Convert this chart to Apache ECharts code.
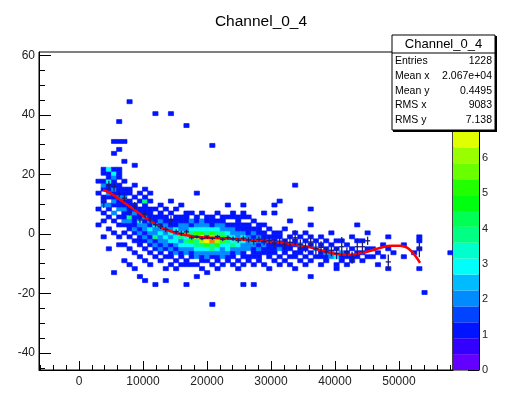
<!DOCTYPE html>
<html><head><meta charset="utf-8">
<script src="https://cdn.jsdelivr.net/npm/echarts@6/dist/echarts.min.js"></script>
<style>html,body{margin:0;padding:0;background:#fff}#c{width:510px;height:397px}</style>
</head><body><div id="c"></div>
<script>
// ---------- histogram definition ----------
const chartTitle = 'Channel_0_4';
const xRange = [-6250, 58450];
const yRange = [-45.7, 61.1];
const nBinsX = 80, nBinsY = 80;
const xMajor = [0, 10000, 20000, 30000, 40000, 50000];
const xMinor = [-6000,-4000,-2000,2000,4000,6000,8000,12000,14000,16000,18000,22000,24000,26000,28000,32000,34000,36000,38000,42000,44000,46000,48000,52000,54000,56000,58000];
const yMajor = [-40, -20, 0, 20, 40, 60];
const yMinor = [-45,-35,-30,-25,-15,-10,-5,5,10,15,25,30,35,45,50,55];
// colour scale (20 contour levels, ROOT pretty palette)
const zLevels = [0,0.45,0.9,1.35,1.8,2.25,2.7,3.15,3.6,4.05,4.5,4.95,5.4,5.85,6.3,6.75,7.2,7.65,8.1,8.55,9];
const paletteColors = ['#6300ff','#3300ff','#0014ff','#0044ff','#008bff','#00bbff','#00fffb','#00ffcc','#00ff85','#00ff55','#00ff0e','#22ff00','#69ff00','#99ff00','#e0ff00','#ffee00','#ffa700','#ff7700','#ff3000','#ff0000'];
// bin contents: [x bin, y bin, entries]
const binContents = [
[11,36,1],[11,40,1],[11,44,1],[11,47,1],
[12,33,1],[12,37,1],[12,39,1],[12,41,2],[12,42,1],[12,43,1],[12,45,1],[12,46,2],[12,47,1],[12,49,1],[12,50,1],
[13,30,1],[13,35,1],[13,38,1],[13,40,1],[13,41,2],[13,43,1],[13,44,2],[13,45,1],[13,46,1],[13,47,3],[13,48,1],[13,49,1],[13,50,3],
[14,24,1],[14,34,1],[14,37,1],[14,39,2],[14,41,1],[14,42,2],[14,43,1],[14,44,1],[14,45,2],[14,46,1],[14,47,1],[14,48,2],[14,49,3],[14,50,1],[14,54,1],[14,57,1],
[15,31,1],[15,33,1],[15,36,1],[15,38,1],[15,40,2],[15,41,1],[15,42,1],[15,43,2],[15,44,1],[15,45,1],[15,46,1],[15,48,1],[15,49,1],[15,50,1],[15,55,1],[15,57,1],[15,62,1],
[16,27,1],[16,31,1],[16,34,1],[16,36,1],[16,37,2],[16,38,1],[16,39,1],[16,40,2],[16,41,1],[16,42,1],[16,43,2],[16,44,1],[16,45,1],[16,47,1],[16,52,1],[16,57,1],
[17,26,1],[17,30,1],[17,33,1],[17,35,1],[17,36,1],[17,37,2],[17,38,4],[17,39,1],[17,40,1],[17,41,1],[17,42,1],[17,44,1],[17,45,1],[17,67,1],
[18,25,1],[18,29,1],[18,32,1],[18,34,1],[18,35,2],[18,36,1],[18,37,1],[18,38,1],[18,39,2],[18,40,1],[18,41,1],[18,43,1],[18,46,1],[18,51,1],
[19,23,1],[19,28,1],[19,31,1],[19,32,1],[19,33,1],[19,34,2],[19,35,1],[19,36,2],[19,37,3],[19,38,1],[19,39,1],[19,40,1],[19,42,1],[19,44,1],
[20,22,1],[20,27,1],[20,30,1],[20,32,1],[20,33,2],[20,34,1],[20,35,2],[20,36,2],[20,37,1],[20,38,2],[20,39,1],[20,40,1],[20,41,1],[20,42,4],[20,43,1],[20,45,1],
[21,26,1],[21,29,1],[21,31,1],[21,32,2],[21,33,1],[21,34,2],[21,35,3],[21,36,1],[21,37,2],[21,38,1],[21,39,1],[21,40,1],[21,42,1],[21,44,1],
[22,21,1],[22,28,1],[22,30,1],[22,31,2],[22,32,1],[22,33,4],[22,34,2],[22,35,2],[22,36,3],[22,37,1],[22,38,1],[22,40,1],[22,64,1],
[23,27,1],[23,29,1],[23,30,2],[23,31,1],[23,32,2],[23,33,2],[23,34,3],[23,35,2],[23,36,1],[23,37,2],[23,38,1],[23,39,1],[23,41,1],
[24,22,1],[24,25,1],[24,28,1],[24,30,1],[24,31,2],[24,32,2],[24,33,3],[24,34,2],[24,35,2],[24,36,2],[24,37,1],[24,38,1],[24,40,1],
[25,26,1],[25,28,1],[25,29,1],[25,30,2],[25,31,1],[25,32,3],[25,33,2],[25,34,3],[25,35,2],[25,36,1],[25,37,1],[25,39,1],[25,42,1],[25,64,1],
[26,25,1],[26,27,1],[26,29,2],[26,30,1],[26,31,2],[26,32,3],[26,33,3],[26,34,2],[26,35,3],[26,36,1],[26,37,1],[26,38,1],[26,40,1],
[27,26,1],[27,28,1],[27,29,1],[27,30,2],[27,31,3],[27,32,2],[27,33,4],[27,34,3],[27,35,2],[27,36,2],[27,37,1],[27,38,1],[27,41,1],
[28,21,1],[28,26,1],[28,27,1],[28,29,2],[28,30,2],[28,31,3],[28,32,4],[28,33,3],[28,34,5],[28,35,2],[28,36,2],[28,37,1],[28,38,1],[28,39,1],[28,61,1],
[29,26,1],[29,28,1],[29,29,1],[29,30,2],[29,31,3],[29,32,5],[29,33,4],[29,34,4],[29,35,3],[29,36,1],[29,37,2],[29,39,1],
[30,23,1],[30,26,1],[30,28,2],[30,29,2],[30,30,3],[30,31,4],[30,32,4],[30,33,6],[30,34,5],[30,35,3],[30,36,2],[30,37,1],[30,38,1],[30,44,1],
[31,25,1],[31,27,1],[31,28,1],[31,29,2],[31,30,3],[31,31,4],[31,32,6],[31,33,7],[31,34,5],[31,35,3],[31,36,2],[31,37,2],[31,39,1],
[32,24,1],[32,27,1],[32,28,2],[32,29,2],[32,30,3],[32,31,5],[32,32,7],[32,33,9],[32,34,4],[32,35,3],[32,36,2],[32,37,1],[32,38,1],
[33,16,1],[33,26,1],[33,28,1],[33,29,2],[33,30,4],[33,31,4],[33,32,8],[33,33,6],[33,34,5],[33,35,3],[33,36,1],[33,37,1],[33,38,1],[33,56,1],
[34,25,1],[34,27,1],[34,28,1],[34,29,2],[34,30,3],[34,31,5],[34,32,6],[34,33,8],[34,34,4],[34,35,3],[34,36,2],[34,37,1],[34,39,1],
[35,26,1],[35,28,2],[35,29,2],[35,30,2],[35,31,3],[35,32,5],[35,33,5],[35,34,4],[35,35,2],[35,36,2],[35,37,1],[35,38,1],
[36,27,1],[36,28,1],[36,29,2],[36,30,3],[36,31,3],[36,32,4],[36,33,4],[36,34,3],[36,35,2],[36,36,1],[36,38,1],[36,41,1],
[37,26,1],[37,28,1],[37,29,1],[37,30,2],[37,31,4],[37,32,3],[37,33,3],[37,34,2],[37,35,2],[37,36,1],[37,38,1],[37,39,1],
[38,25,1],[38,27,1],[38,29,2],[38,30,2],[38,31,3],[38,32,4],[38,33,2],[38,34,2],[38,35,1],[38,36,1],[38,37,1],[38,38,1],
[39,21,1],[39,26,1],[39,28,1],[39,29,1],[39,30,2],[39,31,2],[39,32,3],[39,33,3],[39,34,2],[39,35,1],[39,36,1],[39,38,1],[39,39,1],[39,41,1],
[40,27,1],[40,28,1],[40,30,2],[40,31,2],[40,32,2],[40,33,2],[40,34,1],[40,35,1],[40,36,1],[40,38,1],
[41,21,1],[41,26,1],[41,28,1],[41,29,1],[41,30,1],[41,31,2],[41,32,3],[41,33,1],[41,34,2],[41,35,1],[41,37,1],
[42,27,1],[42,28,1],[42,29,1],[42,30,2],[42,31,1],[42,32,2],[42,33,2],[42,34,1],[42,35,1],[42,36,1],
[43,26,1],[43,29,1],[43,30,1],[43,31,2],[43,32,1],[43,33,1],[43,34,1],[43,36,1],[43,39,1],
[44,25,1],[44,28,1],[44,29,1],[44,30,1],[44,31,1],[44,32,2],[44,33,1],[44,35,1],
[45,27,1],[45,29,1],[45,30,1],[45,31,1],[45,32,1],[45,33,1],[45,34,1],[45,39,1],[45,41,1],
[46,26,1],[46,28,1],[46,30,2],[46,31,1],[46,33,1],[46,34,1],[46,42,1],
[47,27,1],[47,29,1],[47,30,1],[47,31,1],[47,32,1],[47,35,1],
[48,26,1],[48,28,1],[48,30,1],[48,31,1],[48,33,1],[48,37,1],
[49,25,1],[49,28,1],[49,29,1],[49,31,1],[49,32,1],[49,34,1],[49,46,1],
[50,27,1],[50,29,1],[50,30,1],[50,31,2],[50,33,1],
[51,26,1],[51,28,1],[51,30,1],[51,32,1],[51,34,1],
[52,23,1],[52,27,1],[52,29,1],[52,31,1],[52,33,1],[52,36,1],[52,40,1],
[53,28,1],[53,30,2],[53,32,1],
[54,26,1],[54,28,1],[54,29,1],[54,31,1],[54,33,1],
[55,27,1],[55,28,1],[55,29,2],[55,30,1],[55,32,1],
[56,28,2],[56,29,2],[56,31,1],[56,34,1],
[57,25,1],[57,26,1],[57,28,3],[57,30,1],[57,32,1],
[58,27,1],[58,28,1],[58,29,2],[58,32,1],
[59,26,1],[59,28,1],[59,29,1],[59,31,1],
[60,27,1],[60,28,1],[60,30,1],[60,33,1],
[61,28,1],[61,29,1],[61,32,1],[61,36,1],
[62,27,1],[62,29,1],[62,32,1],
[63,28,1],[63,30,1],[63,34,1],
[64,28,1],[64,30,1],
[65,26,1],[65,29,1],
[66,28,1],[66,31,1],
[67,25,1],[67,30,1],[67,33,1],
[68,29,1],
[70,28,1],[70,31,1],
[72,29,1],
[73,25,1],[73,30,1],[73,32,1],[73,33,1],
[74,19,1],[79,29,1]
];
// profile (mean y per x bin): [x bin, mean, error]
const profileData = [
[12,10.8,2.0],[13,16.5,1.4],[14,15.8,1.5],[15,13.5,1.2],[16,12.0,1.3],[17,7.4,1.2],[18,9.5,1.2],[19,4.7,1.0],[20,6.5,1.1],
[21,4.7,1.0],[22,3.1,0.9],[23,2.5,0.9],[24,1.5,0.9],[25,4.7,1.5],[26,0.8,0.8],[27,0.2,0.8],[28,0.7,0.7],[29,-1.3,0.6],[30,-1.0,0.5],
[31,-1.6,0.5],[32,-1.2,0.5],[33,-1.5,0.5],[34,-0.9,0.6],[35,-1.8,0.6],[36,-1.2,0.7],[37,-1.6,0.7],[38,-2.2,0.8],[39,-1.4,0.8],[40,-2.0,0.9],
[41,-2.6,1.0],[42,-1.8,1.0],[43,-2.5,1.2],[44,-2.2,1.2],[45,-3.0,1.3],[46,-2.4,1.4],[47,-3.4,1.5],[48,-2.8,1.5],[49,-1.3,2.5],[50,-3.5,1.6],
[51,-4.4,1.8],[52,-2.7,1.8],[53,-5.0,2.0],[54,-4.5,2.0],[55,-6.0,1.5],[56,-5.5,2.0],[57,-6.5,2.0],[58,-4.3,3.3],[59,-6.0,1.5],[60,-8.0,2.0],
[61,-4.3,2.8],[62,-4.3,2.0],[63,-2.3,1.4],[67,-9.4,2.5],[73,-5.0,2.8]
];
// fitted polynomial: [x, y]
const fitCurve = [
[3750,14.8],[4840,13.8],[6400,11.5],[7970,9.1],[9530,6.8],[11100,4.4],[12660,2.4],[14200,1.0],[15800,0.0],[17300,-0.6],
[18900,-1.0],[20900,-1.3],[23600,-1.6],[26250,-2.0],[28900,-2.3],[31400,-3.0],[34100,-3.7],[36600,-4.7],[39200,-6.3],[41900,-7.0],
[44400,-6.3],[47000,-4.7],[48900,-4.0],[50200,-4.0],[51700,-5.3],[53300,-9.7]
];
const statsLabels = ['Entries', 'Mean x', 'Mean y', 'RMS x', 'RMS y'];
const statsValues = ['1228', '2.067e+04', '0.4495', '9083', '7.138'];

// ---------- drawing ----------
const binW = (xRange[1] - xRange[0]) / nBinsX;
const binH = (yRange[1] - yRange[0]) / nBinsY;
const cells = binContents.map(b => [xRange[0] + (b[0] + 0.5) * binW, yRange[0] + (b[1] + 0.5) * binH, b[2]]);
const profile = profileData.map(p => [xRange[0] + (p[0] + 0.5) * binW, p[1], p[2]]);
const paletteBands = zLevels.slice(0, -1).map((lo, i) => [lo, zLevels[i + 1], i]);
const pieces = paletteBands.map((b, i) => (i === paletteBands.length - 1 ? {gte: b[0], lte: b[1], color: paletteColors[i]} : {gte: b[0], lt: b[1], color: paletteColors[i]}));

const FONT = 'Liberation Sans, Arial, Helvetica, sans-serif';
const TXT = '#222';
const chart = echarts.init(document.getElementById('c'));
const L = 39, T = 52, W = 414, H = 318;
const plain = v => String(v);

function axisCommon(extra) {
  return Object.assign({type: 'value', splitLine: {show: false}, axisLine: {show: false, onZero: false}, axisLabel: {show: false}, axisTick: {show: false}}, extra);
}

chart.setOption({
  animation: false,
  grid: [
    {left: L, top: T, width: W, height: H, show: true, borderColor: '#000', borderWidth: 1, backgroundColor: 'transparent'},
    {left: 453, top: T, width: 26, height: H, show: true, borderColor: '#000', borderWidth: 1, backgroundColor: 'transparent'}
  ],
  xAxis: [
    axisCommon({gridIndex: 0, min: xRange[0], max: xRange[1], position: 'bottom',
      axisLine: {show: true, onZero: false, lineStyle: {color: '#000', width: 1}},
      axisTick: {show: true, inside: true, length: 9, customValues: xMajor, lineStyle: {color: '#000'}},
      axisLabel: {show: true, customValues: xMajor, formatter: plain, color: TXT, fontSize: 12, fontFamily: FONT, margin: 6}}),
    axisCommon({gridIndex: 0, min: xRange[0], max: xRange[1], position: 'bottom',
      axisLine: {show: false, onZero: false},
      axisTick: {show: true, inside: true, length: 5, customValues: xMinor, lineStyle: {color: '#000'}}}),
    axisCommon({gridIndex: 1, min: 0, max: 1, show: false})
  ],
  yAxis: [
    axisCommon({gridIndex: 0, min: yRange[0], max: yRange[1], position: 'left',
      axisLine: {show: true, onZero: false, lineStyle: {color: '#000', width: 1}},
      axisTick: {show: true, inside: true, length: 12, customValues: yMajor, lineStyle: {color: '#000'}},
      axisLabel: {show: true, customValues: yMajor, formatter: plain, color: TXT, fontSize: 12, fontFamily: FONT, margin: 4}}),
    axisCommon({gridIndex: 0, min: yRange[0], max: yRange[1], position: 'left',
      axisLine: {show: false, onZero: false},
      axisTick: {show: true, inside: true, length: 6, customValues: yMinor, lineStyle: {color: '#000'}}}),
    axisCommon({gridIndex: 1, min: zLevels[0], max: zLevels[zLevels.length - 1], interval: 1, position: 'right',
      axisLine: {show: true, onZero: false, lineStyle: {color: '#000'}},
      axisTick: {show: true, inside: true, length: 11, lineStyle: {color: '#000'}},
      axisLabel: {show: true, formatter: plain, color: TXT, fontSize: 11, fontFamily: FONT, margin: 3}})
  ],
  visualMap: {type: 'piecewise', show: false, dimension: 2, seriesIndex: 0, pieces: pieces},
  series: [
    {type: 'custom', xAxisIndex: 0, yAxisIndex: 0, data: cells, encode: {x: 0, y: 1}, clip: true, z: 2,
      renderItem: function (params, api) {
        const x = api.value(0), y = api.value(1);
        const a = api.coord([x - binW / 2, y + binH / 2]);
        const b = api.coord([x + binW / 2, y - binH / 2]);
        const col = api.visual('color');
        return {type: 'rect', shape: {x: a[0], y: a[1], width: b[0] - a[0], height: b[1] - a[1]}, style: {fill: col, stroke: col, lineWidth: 0.7}};
      }},
    {type: 'line', xAxisIndex: 0, yAxisIndex: 0, data: fitCurve, smooth: 0.4, showSymbol: false, symbol: 'none', z: 3,
      lineStyle: {color: '#ff0000', width: 2.5}},
    {type: 'custom', xAxisIndex: 0, yAxisIndex: 0, data: profile, encode: {x: 0, y: 1}, clip: true, z: 4,
      renderItem: function (params, api) {
        const x = api.value(0), m = api.value(1), e = api.value(2);
        const h1 = api.coord([x - binW / 2, m]), h2 = api.coord([x + binW / 2, m]);
        const v1 = api.coord([x, m - e]), v2 = api.coord([x, m + e]);
        const st = {stroke: '#1c1c70', lineWidth: 1.3};
        return {type: 'group', children: [
          {type: 'line', shape: {x1: h1[0], y1: h1[1], x2: h2[0], y2: h2[1]}, style: st},
          {type: 'line', shape: {x1: v1[0], y1: v1[1], x2: v2[0], y2: v2[1]}, style: st}
        ]};
      }},
    {type: 'custom', xAxisIndex: 2, yAxisIndex: 2, data: paletteBands, z: 2,
      renderItem: function (params, api) {
        const a = api.coord([0, api.value(1)]);
        const b = api.coord([1, api.value(0)]);
        return {type: 'rect', shape: {x: a[0], y: a[1], width: b[0] - a[0], height: b[1] - a[1]}, style: {fill: paletteColors[api.value(2)]}};
      }}
  ],
  graphic: [
    {type: 'text', x: 261, y: 22, z: 100, style: {text: chartTitle, font: '15.5px ' + FONT, fill: '#000', align: 'center', verticalAlign: 'middle'}},
    {type: 'group', z: 100, children: [].concat(
      [{type: 'rect', z: 100, shape: {x: 393, y: 36, width: 104, height: 96}, style: {fill: '#000'}},
       {type: 'rect', z: 101, shape: {x: 392, y: 35, width: 103, height: 95}, style: {fill: '#fff', stroke: '#000', lineWidth: 1}},
       {type: 'line', z: 102, shape: {x1: 392, y1: 53, x2: 495, y2: 53}, style: {stroke: '#000', lineWidth: 1}},
       {type: 'text', z: 102, x: 443.5, y: 44.5, style: {text: chartTitle, font: '13px ' + FONT, fill: '#000', align: 'center', verticalAlign: 'middle'}}],
      statsLabels.map((s, i) => ({type: 'text', z: 102, x: 395, y: 61.5 + i * 14.7, style: {text: s, font: '10.5px ' + FONT, fill: '#000', align: 'left', verticalAlign: 'middle'}})),
      statsValues.map((s, i) => ({type: 'text', z: 102, x: 492, y: 61.5 + i * 14.7, style: {text: s, font: '10.5px ' + FONT, fill: '#000', align: 'right', verticalAlign: 'middle'}}))
    )}
  ]
});
</script></body></html>
